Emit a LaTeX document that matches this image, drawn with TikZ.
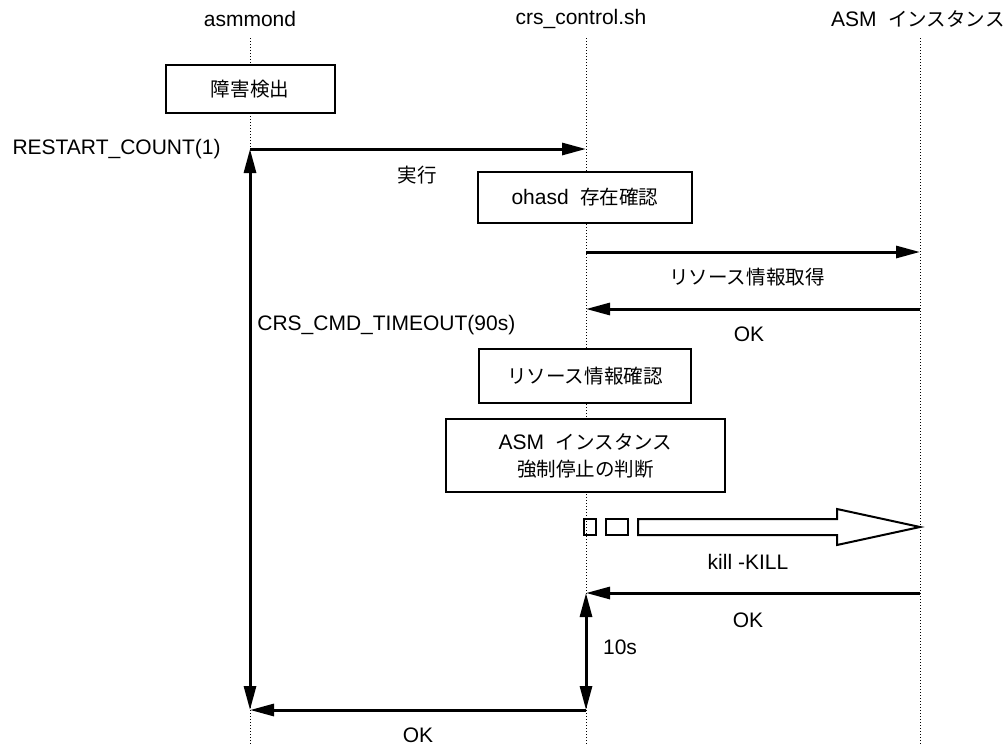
\documentclass[tikz,border=0pt]{standalone}
\usepackage{fontspec}
\setmainfont{Liberation Sans}
\newfontfamily\jp[Scale=0.93]{Noto Sans CJK JP}
\usetikzlibrary{arrows.meta}

\begin{document}
\begin{tikzpicture}[x=0.5pt, y=-0.5pt, font=\fontsize{10.5}{13.5}\selectfont,
  ligne/.style={line width=0.5pt, dash pattern=on 0.5pt off 1pt},
  msg/.style={line width=1.5pt, -{Triangle[length=12pt, width=6pt]}},
  duree/.style={line width=1.5pt, {Triangle[length=12pt, width=6pt]}-{Triangle[length=12pt, width=6pt]}},
  boite/.style={draw, line width=1pt, fill=white, align=center},
  txt/.style={inner sep=0pt}]

% Paramètres
\def\xa{250}  % asmmond
\def\xb{586}  % crs_control.sh
\def\xc{920}  % instance ASM

\useasboundingbox (0,0) rectangle (1006,744);

% Lignes de vie
\node[txt] (asmmond) at (\xa,19) {asmmond};
\node[txt] (crsctl) at (581,19) {crs\_control.sh};
\node[txt, anchor=east] (asminst) at (1005,19) {ASM\ \ {\jp インスタンス}};
\draw[ligne] (\xa,38) -- (\xa,744);
\draw[ligne] (\xb,38) -- (\xb,744);
\draw[ligne] (\xc,38) -- (\xc,744);

% Boîtes
\node[boite, minimum width=84.5pt, minimum height=24pt] (detect) at (250,89) {\jp 障害検出};
\node[boite, minimum width=107pt, minimum height=25.5pt] (ohasd) at (585,197.5) {ohasd\ \ {\jp 存在確認}};
\node[boite, minimum width=106pt, minimum height=27pt] (verif) at (585,376) {\jp リソース情報確認};
\node[boite, minimum width=139.5pt, minimum height=36.5pt] (juge) at (585.5,455.5)
  {ASM\ \ {\jp インスタンス}\\{\jp 強制停止の判断}};

% Points des messages
\coordinate (a1) at (\xa,149);
\coordinate (b1) at (\xb,149);
\coordinate (b2) at (\xb,252);
\coordinate (c2) at (\xc,252);
\coordinate (c3) at (\xc,309);
\coordinate (b3) at (\xb,309);
\coordinate (c4) at (\xc,593);
\coordinate (b4) at (\xb,593);
\coordinate (b5) at (\xb,710);
\coordinate (a5) at (\xa,710);

% Messages
\draw[msg] (a1) -- (b1);
\draw[msg] (b2) -- (c2);
\draw[msg] (c3) -- (b3);
\draw[msg] (c4) -- (b4);
\draw[msg] (b5) -- (a5);

% Durées
\draw[duree] (a1) -- (a5);
\draw[duree] (b4) -- (b5);

% Flèche kill
\draw[line width=1pt] (584,519) rectangle (596,535);
\draw[line width=1pt] (606,519) rectangle (628,535);
\draw[line width=1pt, line join=miter] (638,519) -- (837,519) -- (837,509) -- (\xc,527)
  -- (837,545) -- (837,535) -- (638,535) -- cycle;

% Étiquettes
\node[txt, anchor=east] (lrestart) at (221,149) {RESTART\_COUNT(1)};
\node[txt] (lexec) at (417,175) {\jp 実行};
\node[txt] (lget) at (747,277) {\jp リソース情報取得};
\node[txt] (lok1) at (749,334) {OK};
\node[txt, anchor=west] (ltimeout) at (257,325) {CRS\_CMD\_TIMEOUT(90s)};
\node[txt] (lkill) at (748,562) {kill -KILL};
\node[txt] (lok2) at (748,620) {OK};
\node[txt] (l10s) at (620,647) {10s};
\node[txt] (lok3) at (418,735) {OK};

\end{tikzpicture}
\end{document}
